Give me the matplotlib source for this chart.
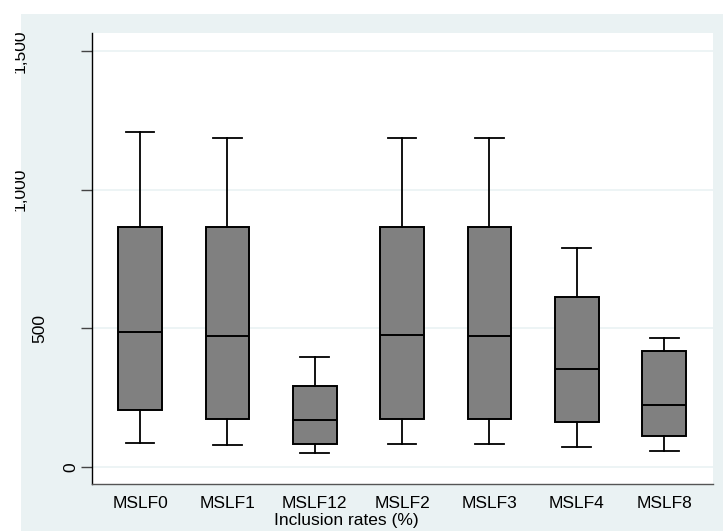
import matplotlib.pyplot as plt
import matplotlib.transforms as mtransforms
from matplotlib.patches import Rectangle

plt.rcParams["font.family"] = ["Liberation Sans", "DejaVu Sans"]

# Box statistics
groups = ["MSLF0", "MSLF1", "MSLF12", "MSLF2", "MSLF3", "MSLF4", "MSLF8"]
whisker_low = [88, 80, 50, 82, 82, 72, 59]
q1 = [204, 172, 85, 173, 174, 161, 112]
median = [488, 474, 169, 475, 473, 355, 223]
q3 = [867, 867, 292, 866, 865, 613, 420]
whisker_high = [1208, 1185, 397, 1185, 1185, 790, 464]

yticks = [0, 500, 1000, 1500]
ytick_labels = ["0", "500", "1,000", "1,500"]
xlabel = "Inclusion rates (%)"

W, H = 723, 531
bg = "#EAF2F3"

fig = plt.figure(figsize=(W / 100, H / 100), dpi=100)
fig.patch.set_facecolor("white")
fig.add_artist(Rectangle((21 / W, 0), 1 - 21 / W, (H - 14) / H,
                         transform=fig.transFigure, facecolor=bg,
                         edgecolor="none", zorder=0))

ax = fig.add_axes([92 / W, (H - 484) / H, (713 - 92) / W, (484 - 33) / H])
ax.set_facecolor("white")

stats = []
for name, lo, a, m, b, hi in zip(groups, whisker_low, q1, median, q3, whisker_high):
    stats.append({"label": name, "whislo": lo, "q1": a, "med": m,
                  "q3": b, "whishi": hi, "fliers": []})

pos = list(range(1, len(groups) + 1))
ax.bxp(stats, positions=pos, widths=0.5, capwidths=0.33, patch_artist=True,
       showfliers=False,
       boxprops=dict(facecolor="#808080", edgecolor="black", linewidth=1.4),
       medianprops=dict(color="black", linewidth=1.4),
       whiskerprops=dict(color="black", linewidth=1.3),
       capprops=dict(color="black", linewidth=1.3))

ax.set_xlim(0.45, 7.56)
ax.set_ylim(-61, 1565)

# grid
ax.set_yticks(yticks)
ax.yaxis.grid(True, color=bg, linewidth=1.2)
ax.set_axisbelow(True)

ax.spines["top"].set_visible(False)
ax.spines["right"].set_visible(False)
ax.spines["left"].set_color("black")
ax.spines["left"].set_linewidth(1.0)
ax.spines["bottom"].set_color("#555555")
ax.spines["bottom"].set_linewidth(1.0)

ax.tick_params(axis="x", length=0, labelsize=12.5, pad=9)
ax.tick_params(axis="y", length=8, width=1, color="#444444", labelleft=False)
ax.set_xticks(pos)
ax.set_xticklabels(groups)

# y labels, rotated like the Stata output
label_x = [71, 40, 20, 20]
trans = mtransforms.blended_transform_factory(fig.transFigure, ax.transData)
clip = Rectangle((15 / W, 0), 1, 1, transform=fig.transFigure)
for v, lab, px in zip(yticks, ytick_labels, label_x):
    t = ax.text(px / W, v, lab, transform=trans, rotation=90, ha="center",
                va="center", fontsize=12.5, clip_on=True)
    t.set_clip_path(clip)

fig.text(346 / W, (H - 520) / H, xlabel, ha="center", va="center", fontsize=12.5)

plt.savefig("out.png", dpi=100)
